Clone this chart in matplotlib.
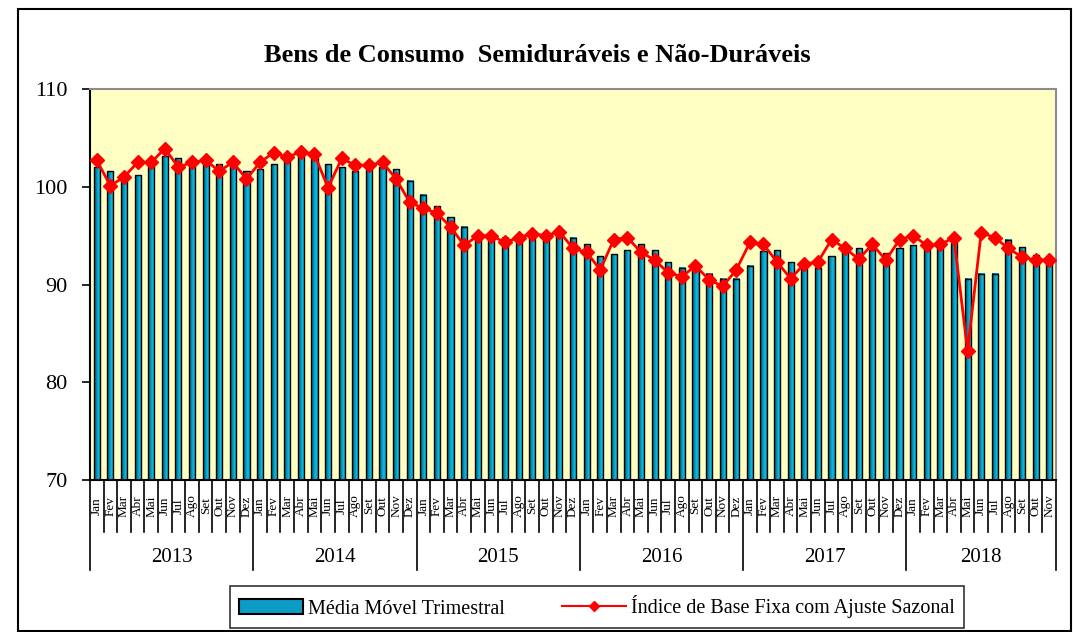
import numpy as np
import matplotlib
matplotlib.use("Agg")
from matplotlib import pyplot as plt
from matplotlib.colors import LinearSegmentedColormap
from matplotlib.patches import Rectangle, Patch
from matplotlib.lines import Line2D
import matplotlib.transforms as mtransforms

plt.rcParams["font.family"] = ["Liberation Serif", "DejaVu Serif"]

# meses / anos do eixo x
meses = ["Jan", "Fev", "Mar", "Abr", "Mai", "Jun", "Jul", "Ago", "Set", "Out", "Nov", "Dez"]
anos = ["2013", "2014", "2015", "2016", "2017", "2018"]

# Media Movel Trimestral (barras)
media_movel = [
    102.0, 101.6, 101.1, 101.2, 102.1, 103.1, 102.9, 102.6, 102.4, 102.3, 102.1, 101.6,
    101.8, 102.3, 102.8, 103.1, 102.9, 102.3, 102.0, 101.6, 101.8, 102.0, 101.8, 100.6,
    99.2, 98.0, 96.9, 95.9, 94.8, 94.7, 94.8, 94.6, 94.9, 94.9, 95.2, 94.8,
    94.1, 92.9, 93.1, 93.5, 94.1, 93.5, 92.3, 91.7, 91.5, 91.1, 90.6, 90.6,
    91.9, 93.4, 93.5, 92.3, 91.7, 91.7, 92.9, 93.5, 93.7, 93.5, 93.2, 93.7,
    94.0, 94.4, 94.2, 94.2, 90.6, 91.1, 91.1, 94.6, 93.8, 93.0, 92.6,
]

# Indice de Base Fixa com Ajuste Sazonal (linha)
indice = [
    102.7, 100.1, 101.0, 102.5, 102.5, 103.9, 102.0, 102.5, 102.7, 101.6, 102.5, 100.8,
    102.5, 103.5, 103.0, 103.6, 103.3, 99.9, 102.9, 102.2, 102.2, 102.5, 100.8, 98.4,
    97.8, 97.3, 95.9, 94.0, 95.0, 95.0, 94.3, 94.8, 95.2, 95.0, 95.4, 93.7,
    93.3, 91.5, 94.6, 94.8, 93.3, 92.5, 91.2, 90.8, 91.9, 90.5, 89.8, 91.5,
    94.3, 94.1, 92.3, 90.6, 92.1, 92.3, 94.6, 93.7, 92.6, 94.1, 92.5, 94.6,
    95.0, 94.0, 94.1, 94.8, 83.2, 95.3, 94.8, 93.7, 92.8, 92.5, 92.5,
]

n = len(media_movel)
labels = [meses[i % 12] for i in range(n)]
x = np.arange(n)
ymin, ymax = 70, 110
w = 0.45

fig = plt.figure(figsize=(10.73, 6.32), dpi=100)
W, H = 1073, 632
ax = fig.add_axes([90 / W, 1 - 480 / H, (1056 - 90) / W, (480 - 89) / H])
ax.set_facecolor("#ffffc4")

# barras com gradiente
cmap = LinearSegmentedColormap.from_list("barra", ["#00506c", "#0088ad", "#10bde6", "#0098c0"])
grad = np.linspace(0, 1, 64).reshape(1, -1)
for xi, v in zip(x, media_movel):
    ax.imshow(grad, cmap=cmap, aspect="auto", interpolation="bilinear",
              extent=[xi - w / 2, xi + w / 2, ymin, v], zorder=2)
ax.bar(x, np.array(media_movel) - ymin, bottom=ymin, width=w, facecolor="none",
       edgecolor="black", linewidth=1.0, zorder=2.5)

ax.plot(x, indice, color="#ff0000", linewidth=2, marker="D", markersize=7.5,
        markeredgecolor="#ff0000", zorder=3)

ax.set_xlim(-0.5, n - 0.5)
ax.set_ylim(ymin, ymax)
ax.set_yticks([70, 80, 90, 100, 110])
ax.tick_params(axis="y", direction="out", length=6, width=1.2, pad=10, labelsize=16)
ax.set_xticks([])
for s in ["top", "right"]:
    ax.spines[s].set_color("#8c8c8c")
    ax.spines[s].set_linewidth(1.5)
for s in ["left", "bottom"]:
    ax.spines[s].set_color("black")
    ax.spines[s].set_linewidth(1.5)

# rotulos de meses e anos abaixo do eixo
trans = mtransforms.blended_transform_factory(ax.transData, ax.transAxes)
axh = 480 - 89
cell = 52 / axh
yr_cell = 90 / axh
for i in range(n + 1):
    xb = i - 0.5
    depth = yr_cell if (i % 12 == 0 or i == n) else cell
    ax.plot([xb, xb], [0, -depth], color="black", linewidth=1.2, transform=trans, clip_on=False)
for i, lab in enumerate(labels):
    ax.text(i, -26 / axh, lab, rotation=90, ha="center", va="center", fontsize=9.5,
            transform=trans, clip_on=False)
for k, ano in enumerate(anos):
    start = k * 12
    end = min(start + 12, n)
    ax.text((start + end - 1) / 2, -78 / axh, ano, ha="center", va="center", fontsize=15,
            transform=trans)

fig.text(537 / W, 1 - 55 / H, "Bens de Consumo  Semiduráveis e Não-Duráveis",
         ha="center", va="center", fontsize=19, fontweight="bold")

handles = [Patch(facecolor="#0a9cc4", edgecolor="black", linewidth=1.5),
           Line2D([0], [0], color="#ff0000", linewidth=1.5, marker="D", markersize=5)]
leg = fig.legend(handles, ["Média Móvel Trimestral", "Índice de Base Fixa com Ajuste Sazonal"],
                 loc="center", bbox_to_anchor=(597 / W, 1 - 607 / H), ncol=2, fontsize=14.5,
                 frameon=True, fancybox=False, edgecolor="black", columnspacing=2.8,
                 handlelength=3.2, handletextpad=0.25, borderpad=0.45, borderaxespad=0)
leg.get_frame().set_linewidth(1.2)

fig.patches.append(Rectangle((18 / W, 1 - 631 / H), (1071 - 18) / W, (631 - 9) / H,
                             transform=fig.transFigure, fill=False, edgecolor="black",
                             linewidth=1.5))

fig.savefig("out.png", dpi=100)
